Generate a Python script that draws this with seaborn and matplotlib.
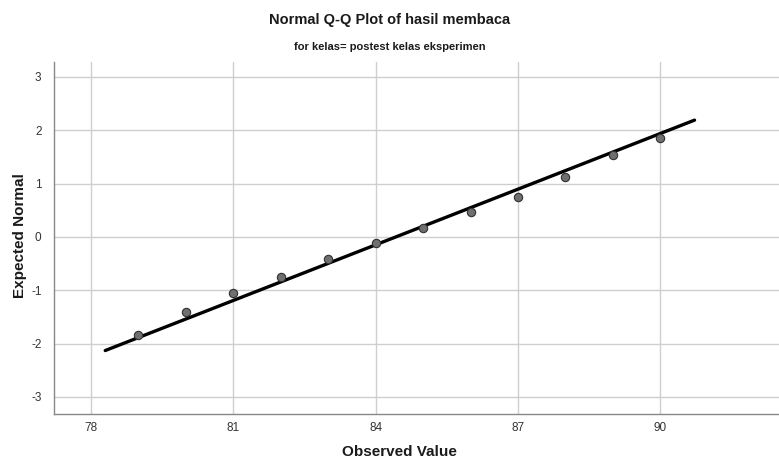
import matplotlib
matplotlib.use("Agg")
import matplotlib.pyplot as plt
import seaborn as sns
import pandas as pd

observed = [79, 80, 81, 82, 83, 84, 85, 86, 87, 88, 89, 90]
expected = [-1.84, -1.40, -1.05, -0.75, -0.41, -0.12, 0.17, 0.46, 0.75, 1.13, 1.53, 1.86]
line_x = [78.3, 90.72]
line_y = [-2.13, 2.19]
x_ticks = [78, 81, 84, 87, 90]
y_ticks = [-3, -2, -1, 0, 1, 2, 3]

sns.set_theme(style="white")
plt.rcParams['font.family'] = ['Liberation Sans', 'DejaVu Sans']
plt.rcParams['axes.unicode_minus'] = False

fig = plt.figure(figsize=(7.79, 4.59), dpi=100)
ax = fig.add_axes([54/779, 1-414/459, 725/779, 352/459])

pts = pd.DataFrame({"obs": observed, "exp": expected})
ln = pd.DataFrame({"x": line_x, "y": line_y})

ax.set_xlim(77.22, 92.5)
ax.set_ylim(-3.32, 3.28)
ax.set_xticks(x_ticks)
ax.set_yticks(y_ticks)
ax.grid(True, color="#cfcfcf", linewidth=1.0)
ax.set_axisbelow(True)

sns.lineplot(data=ln, x="x", y="y", ax=ax, color="black", linewidth=2.4, zorder=3)
sns.scatterplot(data=pts, x="obs", y="exp", ax=ax, s=36, color="#6f6f6f",
                edgecolor="#303030", linewidth=0.8, zorder=4)

for s in ["top", "right"]:
    ax.spines[s].set_visible(False)
for s in ["left", "bottom"]:
    ax.spines[s].set_color("#888888")
    ax.spines[s].set_linewidth(1.0)

ax.tick_params(axis="both", length=0, labelsize=8.5, colors="#333333")
ax.tick_params(axis="x", pad=6)
ax.tick_params(axis="y", pad=9)

ax.set_xlabel("Observed Value", fontsize=11, fontweight="bold", color="#1a1a1a")
ax.set_ylabel("Expected Normal", fontsize=11, fontweight="bold", color="#1a1a1a")
ax.xaxis.set_label_coords((399-54)/725, (414-452)/352)
ax.yaxis.set_label_coords((20-54)/725, (414-236)/352)
ax.xaxis.label.set_va("center")
ax.yaxis.label.set_va("center")

fig.text(0.5, 1-20/459, "Normal Q-Q Plot of hasil membaca", ha="center", va="center",
         fontsize=10.5, fontweight="bold", color="#1a1a1a")
fig.text(0.5, 1-47/459, "for kelas= postest kelas eksperimen", ha="center", va="center",
         fontsize=8, fontweight="bold", color="#1a1a1a")

fig.savefig("out.png", dpi=100)
